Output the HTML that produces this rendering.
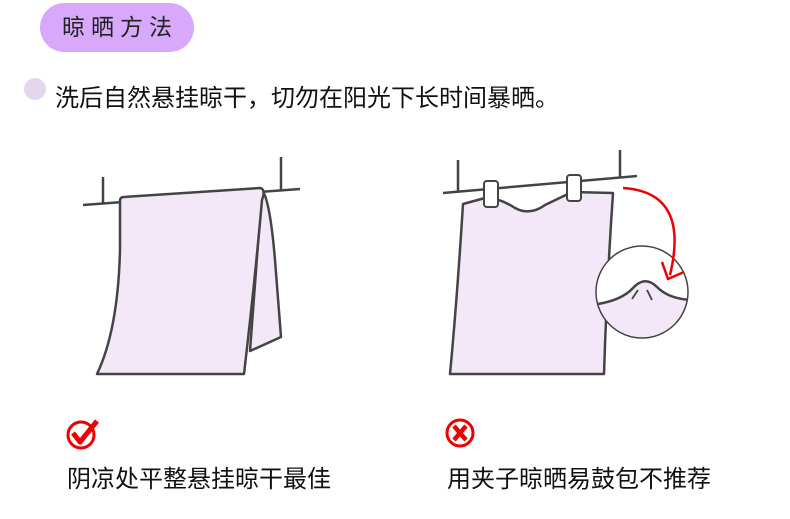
<!DOCTYPE html>
<html><head><meta charset="utf-8"><style>
body{margin:0;width:790px;height:519px;background:#fff;overflow:hidden;position:relative;font-family:"Liberation Sans","Noto Sans CJK SC",sans-serif;color:#111}
.pill{position:absolute;left:40px;top:3px;width:154px;height:49px;border-radius:25px;background:#d8a8fb;font-size:23px;line-height:49px;text-align:center;letter-spacing:6px;text-indent:6px;color:#222}
.t{position:absolute;white-space:nowrap}
</style></head><body>
<div class="pill">晾晒方法</div>
<div style="position:absolute;left:24px;top:78px;width:22px;height:22px;border-radius:50%;background:#e5d6ef"></div>
<div class="t" style="left:55px;top:78px;font-size:24px">洗后自然悬挂晾干，切勿在阳光下长时间暴晒。</div>
<svg width="790" height="519" style="position:absolute;left:0;top:0" fill="none" stroke="#444" stroke-width="2.5" stroke-linejoin="round">
<defs><clipPath id="c"><circle cx="642" cy="292" r="46"/></clipPath></defs>
<line x1="103" y1="177" x2="103" y2="204"/><line x1="281" y1="157" x2="281" y2="190"/>
<line x1="83" y1="205" x2="300" y2="189"/>
<path d="M262,190 Q270,200 275,260 L281,337 L250,351 Z" fill="#f3e8f7"/>
<path d="M124,197 L260,188 Q266,189 262,200 Q255,280 244,374 L97,374 Q118,330 120,250 L120,201 Q120,197 124,197 Z" fill="#f3e8f7"/>
<line x1="458" y1="160" x2="458" y2="192"/><line x1="620" y1="150" x2="620" y2="177"/>
<line x1="443" y1="193" x2="637" y2="176"/>
<path d="M463,204 L485,198 Q500,198 515,208 Q530,216 545,205 L572,192 L613,193 Q607,280 604,374 L450,374 Q457,300 463,204 Z" fill="#f3e8f7"/>
<rect x="484" y="181" width="14" height="26" rx="3" fill="#fff" stroke-width="2"/>
<rect x="567" y="175" width="14" height="26" rx="3" fill="#fff" stroke-width="2"/>
<circle cx="642" cy="292" r="46" fill="#fff" stroke="none"/>
<path clip-path="url(#c)" d="M590,305 Q620,302 633,288 Q645,275 657,287 Q670,300 695,300 L695,350 L590,350 Z" fill="#f3e8f7" stroke="none"/>
<path clip-path="url(#c)" d="M590,305 Q620,302 633,288 Q645,275 657,287 Q670,300 695,300" stroke-width="2.5"/>
<circle cx="642" cy="292" r="46" stroke-width="1.5"/>
<line x1="638" y1="290" x2="632" y2="299" stroke-width="1.8"/><line x1="647" y1="290" x2="652" y2="300" stroke-width="1.8"/>
<path d="M623,188 Q690,192 670,275" stroke="#e00" stroke-width="2.5"/>
<path d="M662,262 L668,279 L684,272" stroke="#e00" stroke-width="2.5" stroke-linejoin="miter"/>
<circle cx="81" cy="435" r="13" stroke="#e00" stroke-width="3"/>
<path d="M73,433 L80,442 L97,421" stroke="#e00" stroke-width="5"/>
<circle cx="460" cy="433" r="13" stroke="#e00" stroke-width="3"/>
<path d="M454,426 L466,440 M466,426 L454,440" stroke="#e00" stroke-width="4.5"/>
</svg>
<div class="t" style="left:67px;top:459px;font-size:24px">阴凉处平整悬挂晾干最佳</div>
<div class="t" style="left:447px;top:459px;font-size:24px">用夹子晾晒易鼓包不推荐</div>
</body></html>
